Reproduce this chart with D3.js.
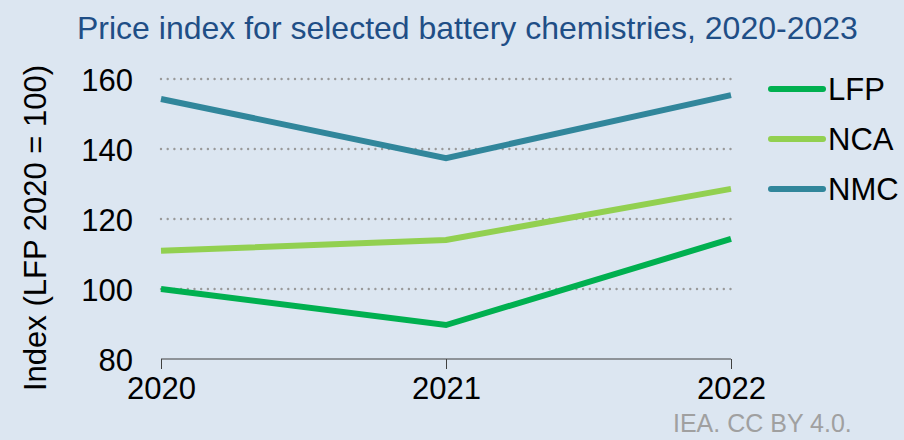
<!DOCTYPE html>
<html><head><meta charset="utf-8">
<script src="https://cdn.jsdelivr.net/npm/d3@7"></script>
<style>body{margin:0;background:#dce6f1;}svg{display:block;font-family:"Liberation Sans",Arial,sans-serif;}</style>
</head><body>
<svg id="c" width="904" height="440"></svg>
<script>
const years = ["2020","2021","2022"];
const seriesNames = ["LFP","NCA","NMC"];
const lfp = [100, 89.7, 114.3];
const nca = [110.9, 114, 128.6];
const nmc = [154.3, 137.4, 155.4];
const yTicks = [80,100,120,140,160];
const colors = ["#00b050","#92d050","#31869b"];
const FONT = "Liberation Sans, Arial, sans-serif";

const svg = d3.select("#c");
svg.append("rect").attr("width",904).attr("height",440).attr("fill","#dce6f1");
const x = d3.scalePoint().domain(years).range([161,731]);
const y = d3.scaleLinear().domain([80,160]).range([359,79]);

svg.append("text").attr("x",77).attr("y",39)
  .attr("fill","#1f4e86").attr("font-size",32).text("Price index for selected battery chemistries, 2020-2023");

// grid
svg.append("g").selectAll("line").data(yTicks.filter(d=>d>80)).join("line")
  .attr("x1",161).attr("x2",731).attr("y1",d=>y(d)).attr("y2",d=>y(d))
  .attr("stroke","#999999").attr("stroke-width",2.4).attr("stroke-dasharray","0 6.7").attr("stroke-linecap","round");

// y labels
const ya = svg.append("g").attr("transform","translate(161,0)")
  .call(d3.axisLeft(y).tickValues(yTicks).tickSize(0).tickPadding(28));
ya.select(".domain").remove();
ya.selectAll("text").attr("font-size",31).attr("fill","#000").attr("font-family",FONT).attr("dy","0.36em");

// x axis
const xa = svg.append("g").attr("transform","translate(0,359)")
  .call(d3.axisBottom(x).tickSize(10));
xa.select(".domain").attr("stroke","#404040").attr("d","M161,0H731");
xa.selectAll(".tick line").attr("stroke","#404040");
xa.selectAll("text").attr("font-size",31).attr("fill","#000").attr("font-family",FONT).attr("y",40).attr("dy",0);

svg.append("text").attr("transform","translate(46,228) rotate(-90)").attr("text-anchor","middle")
  .attr("font-size",31).attr("fill","#000").text("Index (LFP 2020 = 100)");

const data = [lfp,nca,nmc];
const line = d3.line().x((d,i)=>x(years[i])).y(d=>y(d));
data.forEach((s,k)=>{
  svg.append("path").attr("d",line(s)).attr("fill","none").attr("stroke",colors[k])
    .attr("stroke-width",6).attr("stroke-linejoin","miter");
});

// legend
const lg = svg.append("g").selectAll("g").data(seriesNames).join("g")
  .attr("transform",(d,i)=>`translate(0,${89+i*50})`);
lg.append("line").attr("x1",771).attr("x2",823).attr("stroke",(d,i)=>colors[i]).attr("stroke-width",6).attr("stroke-linecap","round");
lg.append("text").attr("x",828).attr("y",0).attr("dy","0.36em").attr("font-size",31).attr("fill","#000").text(d=>d);

svg.append("text").attr("x",673).attr("y",432).attr("font-size",25).attr("fill","#a0a0a0").text("IEA. CC BY 4.0.");
</script>
</body></html>
